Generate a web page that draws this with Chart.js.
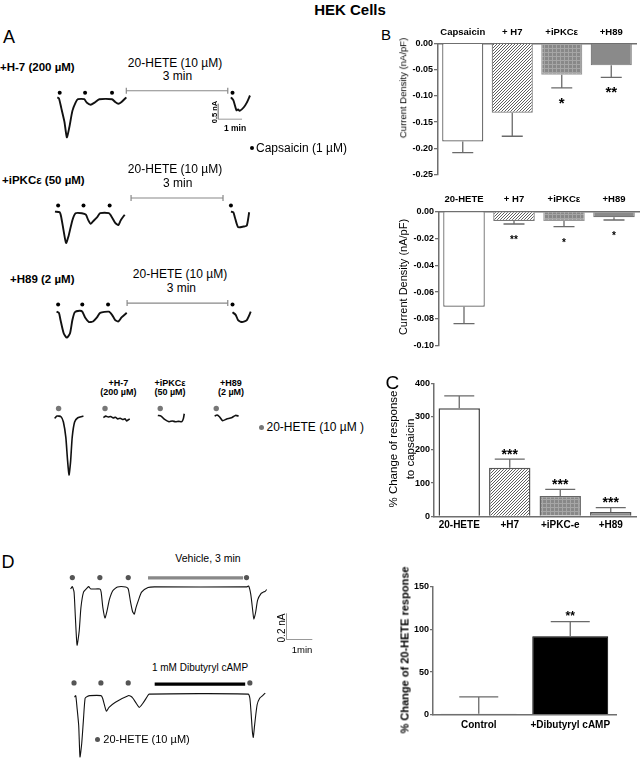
<!DOCTYPE html>
<html><head><meta charset="utf-8">
<script src="https://cdn.jsdelivr.net/npm/chart.js@4.4.1/dist/chart.umd.min.js"></script>
<style>
html,body{margin:0;padding:0;background:#fff;}
#page{position:relative;width:640px;height:765px;overflow:hidden;font-family:"Liberation Sans",Arial,sans-serif;color:#000;}
canvas{position:absolute;}
.t{position:absolute;white-space:nowrap;line-height:1;}
</style></head><body><div id="page"></div>
<script>
// ===================== DATA =====================
// Panel A traces: [time (s), current (nA)]; null = break in recording
const h7Trace = [[6,0.03],[10,0],[16,-0.32],[24,-0.77],[30,-1.27],[36,-0.96],[44,-0.41],[52,-0.14],[58,-0.03],[74,-0.03],[80,-0.14],[90,-0.21],[100,-0.14],[112,-0.03],[144,-0.03],[152,-0.12],[160,-0.18],[168,-0.12],[180,0.03],null,[444,0.03],[450,-0.06],[458,-0.39],[462,-0.36],[466,-0.41],[476,-0.30],[484,-0.14],[492,0.09]];
const h7Caps = [12,76,144,448];
const h7Hete = [180,436];

const ipkcTrace = [[0,0.05],[12,0.03],[16,-0.14],[22,-0.59],[28,-0.98],[34,-0.77],[44,-0.23],[52,0],[68,0],[78,-0.05],[84,-0.23],[90,-0.35],[96,-0.27],[106,-0.14],[114,0],[136,0],[144,-0.14],[152,-0.32],[160,-0.39],[166,-0.23],[176,-0.05],null,[444,0.05],[450,0.03],[454,-0.14],[462,-0.46],[476,-0.44],[484,-0.41],[490,0.03]];
const ipkcCaps = [8,72,138,444];
const ipkcHete = [192,424];

const h89Trace = [[4,0],[10,-0.04],[14,-0.29],[22,-0.75],[30,-0.9],[38,-0.75],[44,-0.29],[50,-0.02],[62,0.03],[69,0],[76,-0.2],[86,-0.36],[96,-0.34],[106,-0.2],[114,-0.04],[136,0],[144,-0.11],[152,-0.29],[160,-0.34],[168,-0.2],[181,-0.04],null,[448,-0.02],[456,-0.11],[462,-0.29],[472,-0.36],[484,-0.29],[494,0]];
const h89Caps = [8,69,134,448];
const h89Hete = [182,436];

const heteCtrlTrace = [[2,-0.05],[8,0.02],[18,0],[24,-0.16],[30,-0.62],[34,-1.26],[38,-1.76],[42,-1.35],[46,-0.62],[52,-0.16],[60,-0.03],[74,0.02]];
const heteH7Trace = [[124,-0.027],[130,0.018],[136,-0.009],[142,0.009],[148,-0.036],[154,-0.018],[160,-0.064],[166,-0.045],[172,-0.082],[178,-0.064],[182,-0.127],[187,-0.082],[190,-0.073]];
const heteIpkcTrace = [[260,0.04],[268,0.02],[276,-0.07],[288,-0.15],[296,-0.13],[304,-0.15],[312,-0.14],[320,-0.15],[324,-0.05],[326,0.09]];
const heteH89Trace = [[402,0.02],[408,0.05],[414,0],[422,-0.12],[432,-0.07],[444,-0.03],[454,0.04],[462,0.02]];
const heteApps = [12,128,266,406];

// Panel D traces: [time (s), current (nA)]
const vehTrace = [[0,-0.016],[4,0.002],[8,-0.04],[11,-0.23],[15,-0.45],[20,-0.34],[24,-0.16],[30,-0.04],[38,-0.01],[42,0.002],[47,-0.016],[68,-0.016],[71,-0.04],[75,-0.16],[80,-0.24],[85,-0.18],[90,-0.1],[98,-0.03],[109,0],[128,0],[134,-0.016],[139,-0.11],[144,-0.19],[148,-0.21],[152,-0.16],[158,-0.1],[165,-0.04],[180,-0.005],[195,0],[409,0],[414,0.007],[419,-0.06],[424,-0.2],[426,-0.25],[430,-0.2],[435,-0.1],[443,-0.05],[448,-0.04],[452,-0.035],[456,-0.02]];
const vehApps = [4,68,134,409];
const vehWindow = [180,401];

const campTrace = [[9,-0.012],[12,0],[15,-0.09],[19,-0.23],[22,-0.47],[26,-0.37],[30,-0.19],[34,-0.02],[39,-0.007],[45,0],[71,0],[75,-0.02],[80,-0.08],[84,-0.12],[90,-0.09],[105,-0.05],[135,0],[141,-0.005],[146,-0.02],[154,-0.06],[161,-0.09],[169,-0.06],[180,-0.005],[184,0.012],[416,0.012],[420,-0.02],[423,-0.14],[426,-0.28],[428,-0.32],[431,-0.23],[437,-0.07],[443,-0.02],[450,0],[456,0.02]];
const campApps = [8,71,135,420];
const campWindow = [197,409];

// Panel B (current density, nA/pF)
const bTopCats = ['Capsaicin','+ H7','+iPKCε','+H89'];
const bTopMean = [-0.187,-0.132,-0.060,-0.042];
const bTopErr  = [0.021,0.045,0.025,0.023];
const bTopSig  = ['','','*','**'];

const bBotCats = ['20-HETE','+ H7','+iPKCε','+H89'];
const bBotMean = [-0.0709,-0.0070,-0.0070,-0.0042];
const bBotErr  = [0.0127,0.0022,0.0042,0.0020];
const bBotSig  = ['','**','*','*'];

// Panel C (% change of response to capsaicin)
const cCats = ['20-HETE','+H7','+iPKC-e','+H89'];
const cMean = [325,146,61,13];
const cErr  = [37,26,20,13];
const cSig  = ['','***','***','***'];

// Panel D (% change of 20-HETE response)
const dCats = ['Control','+Dibutyryl cAMP'];
const dMean = [1,92];
const dErr  = [20,17];
const dSig  = ['','**'];

// ===================== HELPERS =====================
const page = document.getElementById('page');
Chart.defaults.font.family = '"Liberation Sans", Arial, sans-serif';

function mkCanvas(left, top, w, h) {
  const c = document.createElement('canvas');
  c.width = w; c.height = h;
  c.style.left = left + 'px'; c.style.top = top + 'px';
  c.style.width = w + 'px'; c.style.height = h + 'px';
  page.appendChild(c);
  return c;
}
function txt(s, x, y, o = {}) {
  const d = document.createElement('div');
  d.className = 't'; d.textContent = s;
  d.style.left = x + 'px'; d.style.top = y + 'px';
  d.style.fontSize = (o.size || 12) + 'px';
  if (o.bold) d.style.fontWeight = 'bold';
  if (o.color) d.style.color = o.color;
  const ax = o.align === 'left' ? '0' : '-50%';
  d.style.transform = `translate(${ax},-50%)` + (o.rot ? ` rotate(${o.rot}deg)` : '');
  page.appendChild(d);
}
function dot(x, y, r, color) {
  const d = document.createElement('div');
  d.style.cssText = `position:absolute;left:${x - r}px;top:${y - r}px;width:${2 * r}px;height:${2 * r}px;border-radius:50%;background:${color}`;
  page.appendChild(d);
}
function segments(arr) {
  const out = [[]];
  arr.forEach(p => { if (p === null) out.push([]); else out[out.length - 1].push({x: p[0], y: p[1]}); });
  return out.filter(s => s.length);
}

function traceChart(f, trace, apps, win) {
  const left = Math.round(f.x0 + f.xmin * f.kx), top = Math.round(f.y0 - f.ymax * f.ky);
  const w = Math.round((f.xmax - f.xmin) * f.kx), h = Math.round((f.ymax - f.ymin) * f.ky);
  const xmin = (left - f.x0) / f.kx, xmax = xmin + w / f.kx;
  const ymax = (f.y0 - top) / f.ky, ymin = ymax - h / f.ky;
  const ds = [];
  trace.forEach(tr => segments(tr).forEach(seg => ds.push({
    data: seg, showLine: true, borderColor: '#111', borderWidth: f.lw,
    pointRadius: 0, tension: 0.2, clip: false
  })));
  ds.push({data: apps.map(t => ({x: t, y: f.capY})), showLine: false,
    pointRadius: f.dotR, pointBackgroundColor: f.dotC, pointBorderWidth: 0, clip: false});
  if (win) ds.push({data: win.map(t => ({x: t, y: f.barY})), showLine: true,
    borderColor: f.barC, borderWidth: f.barW,
    pointRadius: f.barCap ? 3 : 0, pointStyle: 'line', pointRotation: 90,
    pointBorderColor: f.barC, pointBorderWidth: 1.2, clip: false});
  if (f.scale) {
    const s = f.scale;
    ds.push({data: [{x: s.t, y: s.i}, {x: s.t, y: s.i - s.di}, {x: s.t + s.dt, y: s.i - s.di}],
      showLine: true, borderColor: '#999', borderWidth: 1, pointRadius: 0, clip: false});
  }
  new Chart(mkCanvas(left, top, w, h), {
    type: 'scatter', data: {datasets: ds},
    options: {responsive: false, animation: false, events: [], layout: {padding: 0},
      plugins: {legend: {display: false}, tooltip: {enabled: false}},
      scales: {x: {type: 'linear', display: false, min: xmin, max: xmax},
               y: {type: 'linear', display: false, min: ymin, max: ymax}}}
  });
}

// error bars + significance stars
const errPlugin = {
  id: 'err',
  afterDatasetsDraw(chart, args, o) {
    const ctx = chart.ctx, ys = chart.scales.y;
    chart.data.datasets.forEach((ds, di) => {
      if (!ds.errors) return;
      chart.getDatasetMeta(di).data.forEach((bar, i) => {
        const v = ds.data[i], e = ds.errors[i], sgn = v < 0 ? -1 : 1;
        const yEnd = ys.getPixelForValue(v + sgn * e);
        ctx.save();
        ctx.strokeStyle = o.color; ctx.lineWidth = o.width;
        ctx.beginPath();
        ctx.moveTo(bar.x, bar.y); ctx.lineTo(bar.x, yEnd);
        ctx.moveTo(bar.x - o.cap / 2, yEnd); ctx.lineTo(bar.x + o.cap / 2, yEnd);
        ctx.stroke();
        const s = ds.stars && ds.stars[i];
        if (s) {
          ctx.fillStyle = '#000';
          ctx.font = `bold ${o.starSize}px "Liberation Sans", Arial, sans-serif`;
          ctx.textAlign = 'center'; ctx.textBaseline = 'alphabetic';
          ctx.fillText(s, bar.x, yEnd + (v < 0 ? o.starOff : -o.starOff));
        }
        ctx.restore();
      });
    });
  }
};
Chart.register(errPlugin);

function pattern(kind) {
  const c = document.createElement('canvas');
  const x = c.getContext('2d');
  if (kind === 'hatch') {
    c.width = c.height = 3;
    x.fillStyle = '#fff'; x.fillRect(0, 0, 3, 3); x.fillStyle = '#5e5e5e';
    for (let i = 0; i < 3; i++) x.fillRect(i, 2 - i, 1, 1);
  } else {
    c.width = c.height = 4;
    x.fillStyle = '#888'; x.fillRect(0, 0, 4, 4); x.fillStyle = '#a6a6a6';
    x.fillRect(0, 0, 4, 1); x.fillRect(0, 0, 1, 4);
  }
  return c.getContext('2d').createPattern(c, 'repeat');
}
const WHITE = '#ffffff', HATCH = pattern('hatch'), CHECK = pattern('check'), GREY = '#8a8a8a';

function barChart(cfg) {
  new Chart(mkCanvas(cfg.left, cfg.top, cfg.w, cfg.h), {
    type: 'bar',
    data: {labels: cfg.labels, datasets: [{
      data: cfg.mean, errors: cfg.err, stars: cfg.sig,
      backgroundColor: cfg.fills, borderColor: cfg.borders, borderWidth: cfg.bw,
      barPercentage: cfg.barPct, categoryPercentage: 1, borderSkipped: 'start'}]},
    options: {responsive: false, animation: false, events: [],
      layout: {padding: cfg.pad},
      plugins: {legend: {display: false}, tooltip: {enabled: false},
        err: {color: '#6a6a6a', width: 1.3, cap: cfg.cap, starSize: cfg.starSize, starOff: cfg.starOff}},
      scales: {
        x: {position: cfg.xPos,
            grid: {display: true, drawOnChartArea: false, drawTicks: false},
            border: {color: '#6f6f6f', width: 1.5},
            ticks: {color: '#000', font: {weight: 'bold', size: cfg.xFont}, padding: cfg.xPad, maxRotation: 0, autoSkip: false},
            afterFit(s) { s.height = cfg.xH; }},
        y: {min: cfg.min, max: cfg.max,
            ticks: {stepSize: cfg.step, color: '#000', font: {weight: 'bold', size: 9}, padding: 1,
                    callback: cfg.fmt},
            grid: {display: true, drawOnChartArea: false, drawTicks: true, tickLength: cfg.tl, color: '#6f6f6f', lineWidth: 1.3},
            border: {color: '#6f6f6f', width: 1.5},
            afterFit(s) { s.width = cfg.yW; }}
      }}
  });
}

// ===================== PANEL A =====================
txt('HEK Cells', 350, 9, {size: 15, bold: true});
txt('A', 3, 37, {size: 18, align: 'left'});

const fA = {kx: 0.4167, ky: 36.6, lw: 1.9, dotR: 2, dotC: '#000', barC: '#888', barW: 1.2, barCap: true};
traceChart({...fA, x0: 50, y0: 95, xmin: -12, xmax: 500, ymin: -1.45, ymax: 0.32, capY: 0.18, barY: 0.245,
  scale: {t: 412, i: -0.18, di: 0.5, dt: 60}}, [h7Trace], h7Caps, h7Hete);
traceChart({...fA, x0: 50, y0: 211.7, xmin: -12, xmax: 500, ymin: -1.1, ymax: 0.58, capY: 0.25, barY: 0.5},
  [ipkcTrace], ipkcCaps, ipkcHete);
traceChart({...fA, x0: 50, y0: 309.3, xmin: -12, xmax: 500, ymin: -1.0, ymax: 0.35, capY: 0.25, barY: 0.3},
  [h89Trace], h89Caps, h89Hete);
traceChart({...fA, lw: 1.6, dotR: 2.7, dotC: '#777', x0: 50, y0: 414, xmin: -12, xmax: 470, ymin: -1.9, ymax: 0.35, capY: 0.25},
  [heteCtrlTrace, heteH7Trace, heteIpkcTrace, heteH89Trace], heteApps, null);

txt('+H-7 (200 µM)', 0, 67.5, {size: 11.5, bold: true, align: 'left'});
txt('20-HETE (10 µM)', 175, 63.3, {size: 12});
txt('3 min', 177.5, 76, {size: 12});
txt('0.5 nA', 214.5, 111.5, {size: 7.5, bold: true, rot: -90});
txt('1 min', 235, 128.3, {size: 8.5, bold: true});
dot(252.3, 148, 2, '#000');
txt('Capsaicin (1 µM)', 256, 148, {size: 12, align: 'left'});

txt('+iPKCε (50 µM)', 2, 180.5, {size: 11.5, bold: true, align: 'left'});
txt('20-HETE (10 µM)', 175, 168.5, {size: 12});
txt('3 min', 177.7, 183.3, {size: 12});

txt('+H89 (2 µM)', 10, 279.7, {size: 11.5, bold: true, align: 'left'});
txt('20-HETE (10 µM)', 180, 274.3, {size: 12});
txt('3 min', 181.3, 288.3, {size: 12});

txt('+H-7', 118.3, 382.5, {size: 9, bold: true});
txt('(200 µM)', 118.3, 392, {size: 9, bold: true});
txt('+iPKCε', 170, 382.5, {size: 9, bold: true});
txt('(50 µM)', 170, 392, {size: 9, bold: true});
txt('+H89', 231, 382.5, {size: 9, bold: true});
txt('(2 µM)', 231, 392, {size: 9, bold: true});
dot(261, 427, 2.5, '#777');
txt('20-HETE (10 µM )', 266.5, 427, {size: 12, align: 'left'});

// ===================== PANEL B =====================
txt('B', 381, 34, {size: 15, align: 'left'});
barChart({left: 380, top: 20, w: 260, h: 161, pad: {top: 0, right: 4, bottom: 6, left: 0},
  labels: bTopCats, mean: bTopMean, err: bTopErr, sig: bTopSig,
  fills: [WHITE, HATCH, CHECK, GREY], borders: ['#555', '#777', '#999', '#777'], bw: 1.2, barPct: 0.83,
  cap: 21, starSize: 15, starOff: 19.6,
  xPos: 'top', xFont: 9.5, xPad: 5.6, xH: 23.3,
  min: -0.25, max: 0, step: 0.05, fmt: v => Number(v).toFixed(2), tl: 4, yW: 58});
txt('Current Density  (nA/pF)', 403, 88, {size: 9.5, rot: -90});

barChart({left: 380, top: 190, w: 260, h: 162, pad: {top: 0, right: 1, bottom: 6.3, left: 0},
  labels: bBotCats, mean: bBotMean, err: bBotErr, sig: bBotSig,
  fills: [WHITE, HATCH, CHECK, GREY], borders: ['#555', '#777', '#999', '#777'], bw: 1.2, barPct: 0.83,
  cap: 21, starSize: 10, starOff: 19,
  xPos: 'top', xFont: 9.5, xPad: 7, xH: 21.7,
  min: -0.10, max: 0, step: 0.02, fmt: v => Number(v).toFixed(2), tl: 4, yW: 59});
txt('Current Density  (nA/pF)', 402.7, 277, {size: 11, rot: -90});

// ===================== PANEL C =====================
txt('C', 385.5, 382, {size: 19, align: 'left'});
barChart({left: 370, top: 375, w: 270, h: 159, pad: {top: 8.3, right: 4, bottom: 0, left: 0},
  labels: cCats, mean: cMean, err: cErr, sig: cSig,
  fills: [WHITE, HATCH, CHECK, GREY], borders: ['#444', '#555', '#666', '#555'], bw: 1.5, barPct: 0.82,
  cap: 30, starSize: 14, starOff: 0.3,
  xPos: 'bottom', xFont: 10, xPad: 3, xH: 17.7,
  min: 0, max: 400, step: 100, fmt: v => v, tl: 3, yW: 64});
txt('% Change of response', 394, 449, {size: 11.5, rot: -90});
txt('to capsaicin', 410.7, 449, {size: 11.5, rot: -90});

// ===================== PANEL D =====================
txt('D', 1.5, 562, {size: 18, align: 'left'});
const fD = {kx: 0.444, ky: 143, lw: 1.1, dotR: 2.6, dotC: '#555', barW: 3.2, barCap: false};
traceChart({...fD, x0: 66.7, y0: 584.3, xmin: -5, xmax: 570, ymin: -0.48, ymax: 0.1, capY: 0.072, barY: 0.07, barC: '#888',
  scale: {t: 502, i: -0.207, di: 0.2, dt: 60}}, [vehTrace], vehApps, vehWindow);
traceChart({...fD, x0: 66.7, y0: 693.3, xmin: -5, xmax: 462, ymin: -0.49, ymax: 0.13, capY: 0.098, barY: 0.089, barC: '#000'},
  [campTrace], campApps, campWindow);
txt('Vehicle, 3 min', 208, 558.3, {size: 10.5});
txt('1 mM Dibutyryl cAMP', 200, 668.3, {size: 10});
txt('0.2 nA', 281.7, 628, {size: 10, rot: -90});
txt('1min', 302, 649.5, {size: 9.5});
dot(97.3, 739.3, 2.5, '#555');
txt('20-HETE (10 µM)', 103.3, 739.3, {size: 11, align: 'left'});

barChart({left: 370, top: 580, w: 270, h: 153, pad: {top: 6.7, right: 24, bottom: 0.3, left: 0},
  labels: dCats, mean: dMean, err: dErr, sig: dSig,
  fills: ['#777', '#000'], borders: ['#777', '#000'], bw: 1, barPct: 0.83,
  cap: 39, starSize: 12, starOff: 1.7,
  xPos: 'bottom', xFont: 10, xPad: 4.3, xH: 18,
  min: 0, max: 150, step: 50, fmt: v => v, tl: 3, yW: 63});
txt('% Change of 20-HETE response', 405, 650, {size: 11, bold: true, rot: -90});
</script></body></html>
